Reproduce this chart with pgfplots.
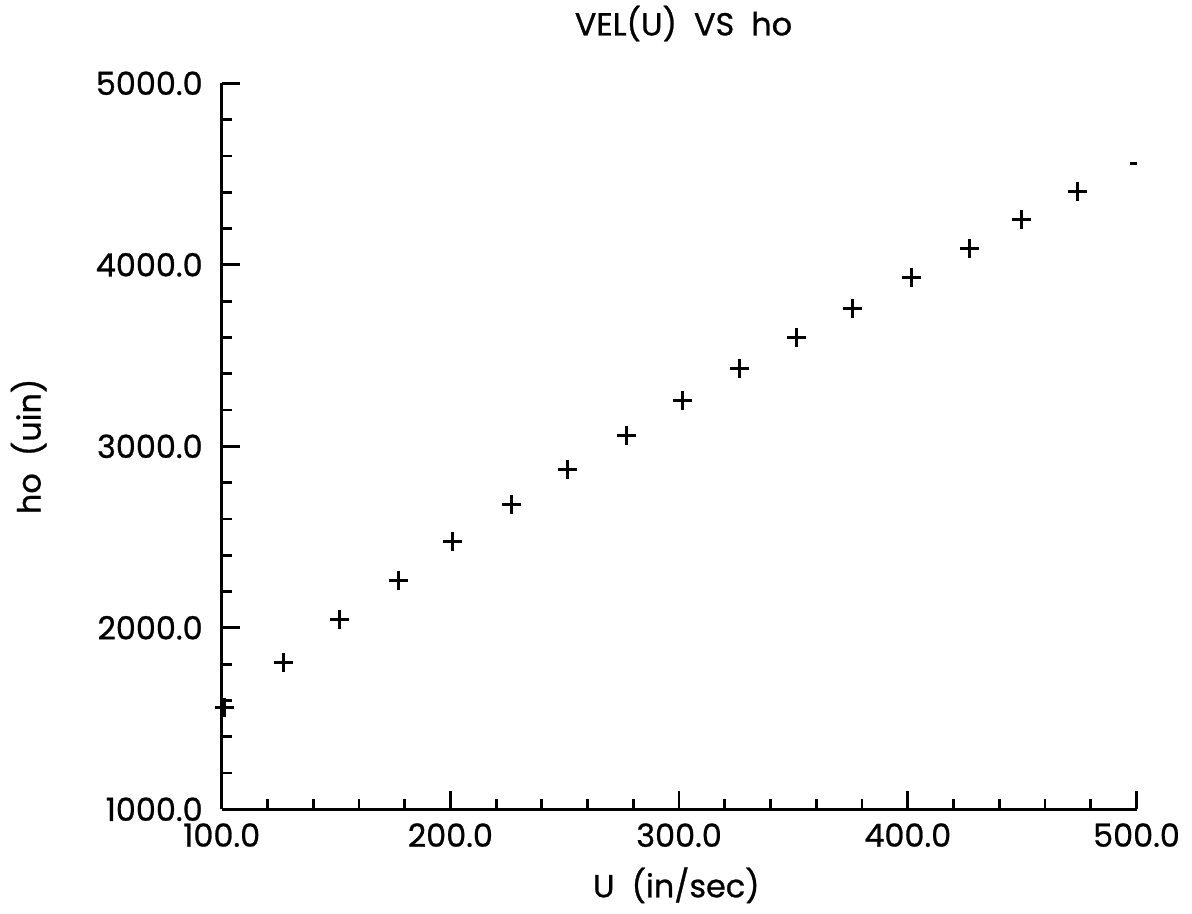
\documentclass[border=0pt]{standalone}
\usepackage{fontspec}
\setmainfont{Poppins}[FakeBold=0.8]
\usepackage{pgfplots}
\pgfplotsset{compat=1.18}
\begin{document}
\begin{tikzpicture}
\begin{axis}[
  scale only axis, width=457.4bp, height=363bp,
  xmin=100, xmax=500, ymin=1000, ymax=5000,
  axis x line*=bottom, axis y line*=left,
  axis line style={line width=1.4bp},
  every tick/.style={line width=1.4bp, black},
  xtick={100,200,300,400,500}, ytick={1000,2000,3000,4000,5000},
  minor x tick num=4, minor y tick num=4,
  tick align=inside,
  major tick length=9bp, minor tick length=5bp,
  font=\fontsize{16}{18}\selectfont,
  /pgf/number format/.cd, fixed, fixed zerofill, precision=1, 1000 sep={}, assume math mode=true,
  /pgfplots/.cd,
  yticklabel style={xshift=-6bp},
  xticklabel style={yshift=-3.5bp},
  title={VEL(U)\ \ VS\ \ ho},
  title style={at={(axis description cs:0.5048,1.0495)}, anchor=base},
  xlabel={U\ \ (in/sec)},
  xlabel style={at={(axis description cs:0.497,-0.1212)}, anchor=base},
  ylabel={ho\ \ (uin)},
  ylabel style={at={(axis description cs:-0.2110,0.5)}, anchor=center},
]
\addplot[only marks, mark=+, mark size=4.75bp, line width=1.5bp, black] coordinates {
(101.4,1560) (127.1,1808) (151.3,2043) (177.1,2263) (201.1,2478)
(226.9,2677) (251.4,2870) (276.8,3058) (301.7,3251) (326.6,3427)
(351.5,3598) (376.0,3760) (401.7,3929) (426.9,4091) (449.5,4252)
(474.0,4406)
};
\addplot[only marks, mark=-, mark size=1.75bp, line width=1.5bp, black] coordinates {
(498.8,4559)
};
\end{axis}
\pgfresetboundingbox
\path (-110.85bp,-52.35bp) rectangle (485.15bp,404.65bp);
\end{tikzpicture}
\end{document}
